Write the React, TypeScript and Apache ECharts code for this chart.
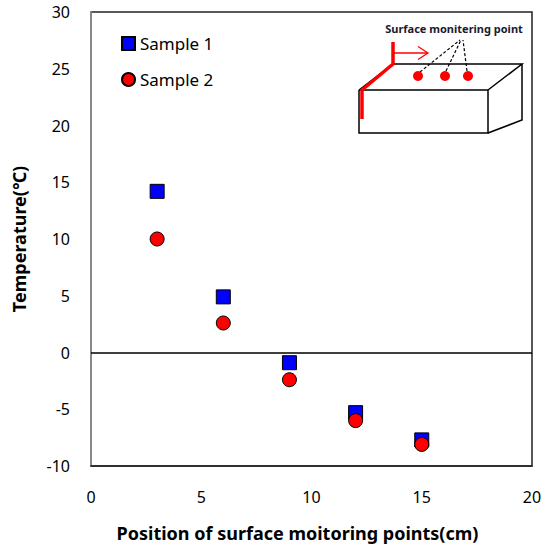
import React, { useEffect, useRef } from "react";
import * as echarts from "echarts";

const positions = [3, 6, 9, 12, 15];
const sample1 = [14.2, 4.9, -0.9, -5.3, -7.7];
const sample2 = [10.0, 2.6, -2.4, -6.0, -8.1];
const seriesNames = ["Sample 1", "Sample 2"];
const xTitle = "Position of surface moitoring points(cm)";
const yTitle = "Temperature(℃)";
const insetLabel = "Surface monitering point";

const FONT = "'Noto Sans', 'DejaVu Sans', sans-serif";

export default function App() {
  const ref = useRef<HTMLDivElement>(null);
  useEffect(() => {
    if (!ref.current) return;
    const chart = echarts.init(ref.current, undefined, { renderer: "svg" });
    const toPairs = (ys: number[]) => positions.map((x, i) => [x, ys[i]]);
    chart.setOption({
      animation: false,
      backgroundColor: "#fff",
      textStyle: { fontFamily: FONT, color: "#000" },
      grid: {
        left: 91,
        right: 14,
        top: 12,
        bottom: 84,
        show: true,
        borderColor: "#222",
        borderWidth: 1.5,
        containLabel: false,
        outerBoundsMode: "none",
      },
      legend: {
        orient: "vertical",
        left: 121,
        top: 35,
        padding: 0,
        itemWidth: 13,
        itemHeight: 13,
        itemGap: 19,
        textStyle: { fontSize: 17, fontFamily: FONT, color: "#000" },
        data: [
          { name: seriesNames[0], icon: "rect" },
          { name: seriesNames[1], icon: "circle" },
        ],
      },
      xAxis: {
        type: "value",
        min: 0,
        max: 20,
        interval: 5,
        name: xTitle,
        nameLocation: "middle",
        nameGap: 58,
        nameTextStyle: {
          fontSize: 18,
          fontWeight: "bold",
          color: "#000",
          fontFamily: FONT,
          padding: [0, 28, 0, 0],
        },
        axisLine: { show: true, onZero: false, lineStyle: { color: "#222", width: 1.5 } },
        axisTick: { show: false },
        splitLine: { show: false },
        axisLabel: { fontSize: 16, color: "#000", margin: 23, fontFamily: FONT },
      },
      yAxis: {
        type: "value",
        min: -10,
        max: 30,
        interval: 5,
        name: yTitle,
        nameLocation: "middle",
        nameGap: 63,
        nameTextStyle: { fontSize: 18, fontWeight: "bold", color: "#000", fontFamily: FONT },
        axisLine: { show: true, onZero: false, lineStyle: { color: "#999", width: 1.5 } },
        axisTick: { show: false },
        splitLine: { show: false },
        axisLabel: { fontSize: 16, color: "#000", margin: 21, fontFamily: FONT },
      },
      series: [
        {
          name: seriesNames[0],
          type: "scatter",
          symbol: "rect",
          symbolSize: 14,
          itemStyle: { color: "#0000ff", borderColor: "#000", borderWidth: 1, opacity: 1 },
          data: toPairs(sample1),
          markLine: {
            silent: true,
            symbol: "none",
            label: { show: false },
            lineStyle: { color: "#000", width: 1.5, type: "solid" },
            data: [{ yAxis: 0 }],
          },
          z: 2,
        },
        {
          name: seriesNames[1],
          type: "scatter",
          symbol: "circle",
          symbolSize: 14,
          itemStyle: { color: "#ff0000", borderColor: "#000", borderWidth: 1, opacity: 1 },
          data: toPairs(sample2),
          z: 3,
        },
      ],
      graphic: [
        {
          type: "group",
          children: [
            { type: "polyline", shape: { points: [[359, 90], [488, 90], [488, 133], [359, 133], [359, 90]] }, style: { stroke: "#000", lineWidth: 1.5, fill: "none" } },
            { type: "polyline", shape: { points: [[359, 90], [393, 64], [522, 64], [488, 90]] }, style: { stroke: "#000", lineWidth: 1.5, fill: "none" } },
            { type: "polyline", shape: { points: [[522, 64], [522, 120], [488, 133]] }, style: { stroke: "#000", lineWidth: 1.5, fill: "none" } },
            { type: "polyline", shape: { points: [[362, 119], [362, 90], [393, 64], [393, 42]] }, style: { stroke: "#ff0000", lineWidth: 3.5, fill: "none" } },
            { type: "line", shape: { x1: 393, y1: 53, x2: 428, y2: 53 }, style: { stroke: "#ff0000", lineWidth: 1.3 } },
            { type: "polyline", shape: { points: [[418, 46.5], [428, 53], [418, 59.5]] }, style: { stroke: "#ff0000", lineWidth: 1.3, fill: "none" } },
            { type: "line", shape: { x1: 420, y1: 72, x2: 460, y2: 40 }, style: { stroke: "#000", lineWidth: 1.2, lineDash: [3, 2] } },
            { type: "line", shape: { x1: 446, y1: 71, x2: 461, y2: 40 }, style: { stroke: "#000", lineWidth: 1.2, lineDash: [3, 2] } },
            { type: "line", shape: { x1: 467, y1: 71, x2: 463, y2: 40 }, style: { stroke: "#000", lineWidth: 1.2, lineDash: [3, 2] } },
            { type: "circle", shape: { cx: 418, cy: 76, r: 5 }, style: { fill: "#ff0000" } },
            { type: "circle", shape: { cx: 445, cy: 76, r: 5 }, style: { fill: "#ff0000" } },
            { type: "circle", shape: { cx: 468, cy: 76, r: 5 }, style: { fill: "#ff0000" } },
            {
              type: "text",
              x: 454,
              y: 28,
              style: {
                text: insetLabel,
                fontSize: 11,
                fontWeight: "bold",
                fontFamily: FONT,
                fill: "#1a1a2e",
                align: "center",
                verticalAlign: "middle",
              },
            },
          ],
        },
      ],
    });
    return () => chart.dispose();
  }, []);
  return <div ref={ref} style={{ width: 546, height: 550, position: "absolute", left: 0, top: 0 }} />;
}
